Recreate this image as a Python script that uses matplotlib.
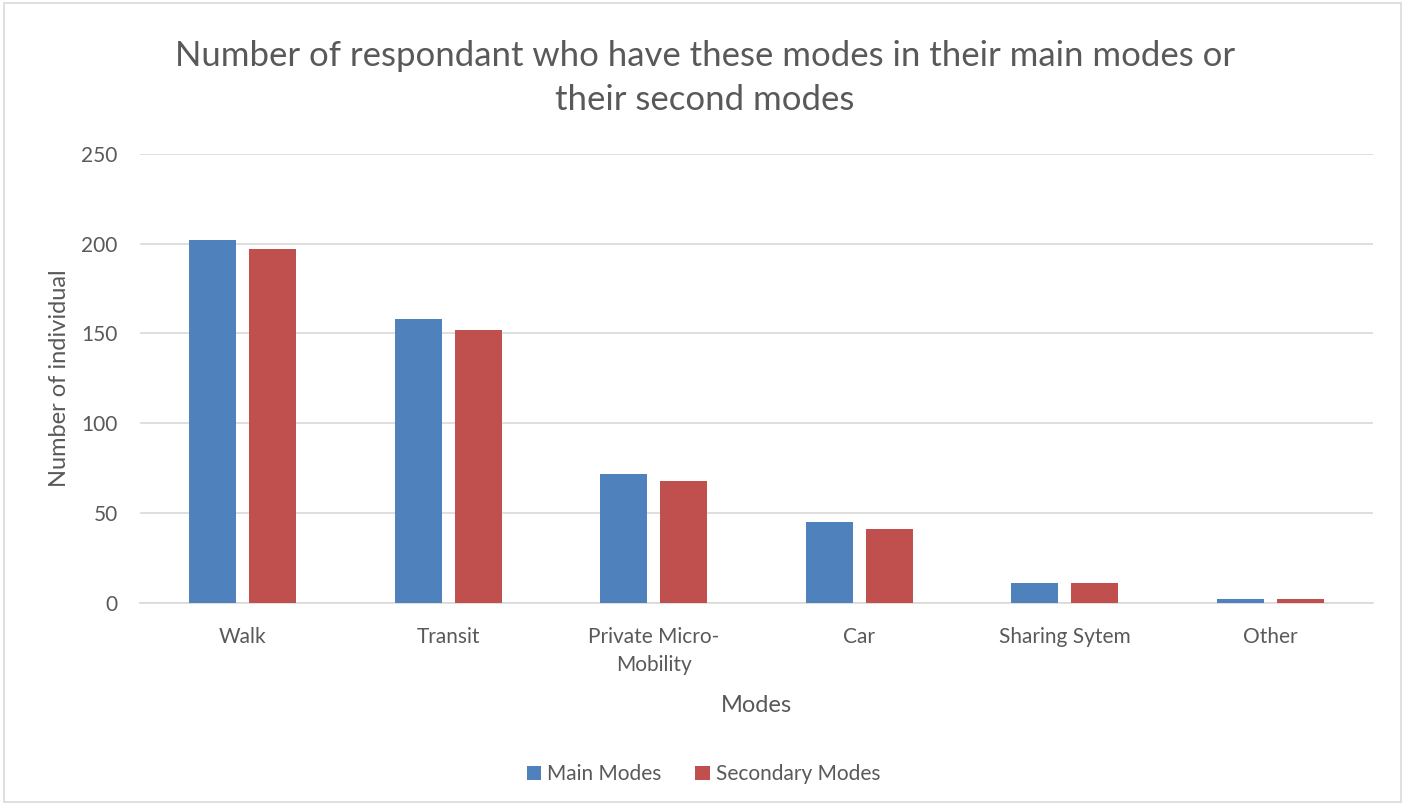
import matplotlib

matplotlib.use("Agg")
import matplotlib.pyplot as plt
import numpy as np
from matplotlib.patches import Rectangle

categories = ["Walk", "Transit", "Private Micro-\nMobility", "Car", "Sharing Sytem", "Other"]
main_modes = [202, 158, 72, 45, 11, 2]
secondary_modes = [197, 152, 68, 41, 11, 2]
y_ticks = [0, 50, 100, 150, 200, 250]

BLUE = "#4F81BD"
RED = "#C0504D"
TEXT = "#595959"
GRID = "#D9D9D9"

plt.rcParams["font.family"] = ["Lato", "DejaVu Sans"]

fig = plt.figure(figsize=(14.07, 8.05), dpi=100)
ax = fig.add_axes([0.0995, 0.251, 0.8765, 0.558])

x = np.arange(len(categories))
w = 0.229
off = 0.146
ax.bar(x - off, main_modes, w, color=BLUE, label="Main Modes", zorder=3)
ax.bar(x + off, secondary_modes, w, color=RED, label="Secondary Modes", zorder=3)

ax.set_xlim(-0.5, len(categories) - 0.5)
ax.set_ylim(0, 250)
ax.set_yticks(y_ticks)
ax.set_xticks(x)
ax.set_xticklabels(categories, fontsize=15, color=TEXT, linespacing=1.55)
ax.tick_params(axis="y", labelsize=15, labelcolor=TEXT, length=0, pad=16)
ax.tick_params(axis="x", length=0, pad=17)
ax.yaxis.grid(True, color=GRID, linewidth=1.2, zorder=0)
for s in ["top", "right", "left"]:
    ax.spines[s].set_visible(False)
ax.spines["bottom"].set_color(GRID)
ax.spines["bottom"].set_linewidth(1.2)

ax.set_xlabel("Modes", fontsize=17, color=TEXT, labelpad=14)
ax.set_ylabel("Number of individual", fontsize=17, color=TEXT, labelpad=8)

fig.text(0.501, 0.903, "Number of respondant who have these modes in their main modes or\ntheir second modes",
         ha="center", va="center", fontsize=25, color=TEXT, linespacing=1.45)

leg = fig.legend(loc="center", bbox_to_anchor=(0.5, 0.038), ncol=2, frameon=False,
                 fontsize=15, handlelength=0.7, handleheight=0.7, handletextpad=0.3,
                 columnspacing=1.6)
for t in leg.get_texts():
    t.set_color(TEXT)

fig.patches.append(Rectangle((0.003, 0.004), 0.993, 0.992, transform=fig.transFigure,
                             fill=False, edgecolor="#D9D9D9", linewidth=1.2))

fig.savefig("out.png", dpi=100)
